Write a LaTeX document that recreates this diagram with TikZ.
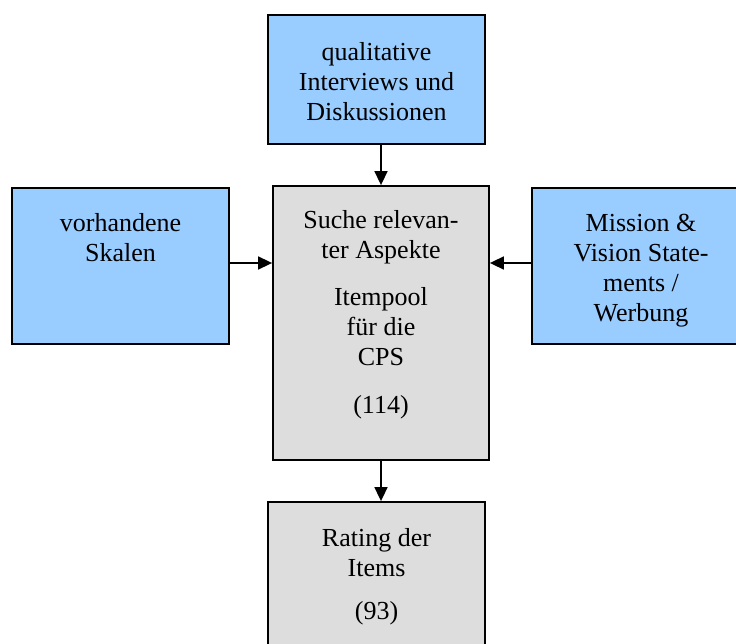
\documentclass[tikz,border=0pt]{standalone}
\usepackage{fontspec}
\setmainfont{Liberation Serif}
\usetikzlibrary{arrows.meta}
\definecolor{boxblue}{HTML}{99CCFF}
\definecolor{boxgray}{HTML}{DDDDDD}
\tikzset{
  box/.style={draw=black, line width=1.8pt, rectangle, inner sep=0pt},
  bluebox/.style={box, fill=boxblue},
  graybox/.style={box, fill=boxgray},
  label/.style={anchor=base, inner sep=0pt, font=\fontsize{26}{30}\selectfont},
  arr/.style={line width=1.6pt, -{Triangle[length=14pt,width=13pt]}}
}
\newcommand{\lines}[1]{\begin{tabular}[t]{@{}c@{}}#1\end{tabular}}
\begin{document}
\begin{tikzpicture}[x=1pt, y=-1pt]
  \clip (0,0) rectangle (736,644);
  \fill[white] (0,0) rectangle (736,644);

  % boxes
  \node[bluebox, minimum width=217pt, minimum height=129pt] (top)    at (376.5, 79.5) {};
  \node[bluebox, minimum width=217pt, minimum height=156pt] (left)   at (120.5, 266) {};
  \node[graybox, minimum width=216pt, minimum height=274pt] (center) at (381, 323) {};
  \node[bluebox, minimum width=218pt, minimum height=156pt] (right)  at (641, 266) {};
  \node[graybox, minimum width=217pt, minimum height=170pt] (bottom) at (376.5, 587) {};

  % texts
  \node[label] (ttop) at (376.5, 61) {\lines{qualitative\\ Interviews und\\ Diskussionen}};
  \node[label] (tleft) at (120.5, 232) {\lines{vorhandene\\ Skalen}};
  \node[label] (tcenter) at (381, 229) {\lines{Suche relevan-\\ ter Aspekte\\[17pt] Itempool\\ für die\\ CPS\\[18pt] (114)}};
  \node[label] (tright) at (641, 232) {\lines{Mission \&\\ Vision State-\\ ments /\\ Werbung}};
  \node[label] (tbottom) at (376.5, 546) {\lines{Rating der\\ Items\\[13pt] (93)}};

  % connectors
  \draw[arr] (center.north |- top.south) -- (center.north);
  \draw[arr] ([yshift=3pt]left.east) -- ([yshift=3pt]left.east -| center.west);
  \draw[arr] ([yshift=3pt]right.west) -- ([yshift=3pt]right.west -| center.east);
  \draw[arr] (center.south |- center.south) -- (center.south |- bottom.north);
\end{tikzpicture}
\end{document}
